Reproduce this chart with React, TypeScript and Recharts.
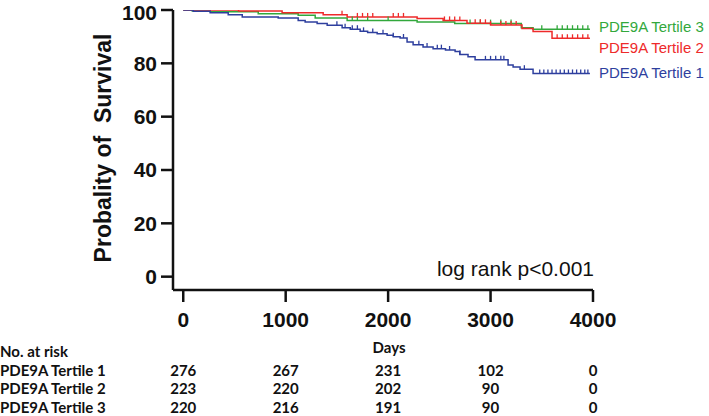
import React from 'react';
import { LineChart, Line, XAxis, YAxis } from 'recharts';

// Kaplan-Meier step points: day, survival %
const tertile1Steps = [
  { d: 0, s: 100 }, { d: 98, s: 99.5 }, { d: 263, s: 99.0 }, { d: 439, s: 98.2 },
  { d: 576, s: 97.4 }, { d: 927, s: 97.0 }, { d: 1122, s: 96.1 }, { d: 1190, s: 95.5 },
  { d: 1307, s: 94.9 }, { d: 1405, s: 94.3 }, { d: 1551, s: 93.3 }, { d: 1630, s: 92.8 },
  { d: 1727, s: 92.0 }, { d: 1800, s: 91.6 }, { d: 1893, s: 91.1 }, { d: 1990, s: 90.5 },
  { d: 2050, s: 90.0 }, { d: 2117, s: 89.5 }, { d: 2185, s: 88.0 }, { d: 2244, s: 87.0 },
  { d: 2341, s: 86.1 }, { d: 2439, s: 85.5 }, { d: 2560, s: 85.0 }, { d: 2654, s: 84.4 },
  { d: 2700, s: 83.3 }, { d: 2780, s: 82.5 }, { d: 2849, s: 81.3 }, { d: 3171, s: 79.4 },
  { d: 3220, s: 78.6 }, { d: 3288, s: 77.8 }, { d: 3415, s: 76.2 }, { d: 3970, s: 76.2 },
];
const tertile2Steps = [
  { d: 0, s: 100 }, { d: 540, s: 99.6 }, { d: 965, s: 99.0 }, { d: 1366, s: 98.2 },
  { d: 1600, s: 97.4 }, { d: 2283, s: 96.8 }, { d: 2537, s: 96.1 }, { d: 2770, s: 95.0 },
  { d: 3000, s: 94.4 }, { d: 3307, s: 93.1 }, { d: 3415, s: 91.9 }, { d: 3600, s: 89.4 },
  { d: 3970, s: 89.4 },
];
const tertile3Steps = [
  { d: 0, s: 100 }, { d: 88, s: 99.6 }, { d: 263, s: 99.3 }, { d: 732, s: 98.6 },
  { d: 1122, s: 98.0 }, { d: 1288, s: 97.0 }, { d: 1600, s: 96.1 }, { d: 2283, s: 95.5 },
  { d: 2650, s: 94.9 }, { d: 3300, s: 93.3 }, { d: 3415, s: 92.8 }, { d: 3970, s: 92.8 },
];

// censoring marks (days)
const tertile1Censor = [1500, 1580, 1650, 1700, 1760, 1850, 1950, 2050, 2150, 2300, 2380, 2480, 2520, 2600, 2700, 2950, 3000, 3050, 3100, 3130, 3330, 3480, 3520, 3560, 3600, 3640, 3680, 3720, 3760, 3800, 3840, 3880, 3920, 3950];
const tertile2Censor = [1550, 1700, 1750, 1800, 1850, 2050, 2100, 2150, 2550, 2600, 2650, 2700, 2850, 2900, 2950, 3000, 3100, 3150, 3200, 3250, 3650, 3700, 3750, 3800, 3850, 3900, 3950];
const tertile3Censor = [1650, 1700, 1800, 2000, 2800, 2900, 3000, 3100, 3200, 3500, 3650, 3700, 3750, 3800, 3850, 3900, 3950];

const xTicks = [0, 1000, 2000, 3000, 4000];
const yTicks = [0, 20, 40, 60, 80, 100];

const groups = ['PDE9A Tertile 1', 'PDE9A Tertile 2', 'PDE9A Tertile 3'];
const atRisk: Record<number, number[]> = {
  0: [276, 223, 220],
  1000: [267, 220, 216],
  2000: [231, 202, 191],
  3000: [102, 90, 90],
  4000: [0, 0, 0],
};

const BLUE = '#2e3f9e';
const RED = '#ee2a2a';
const GREEN = '#32a83c';
const ARIAL = '"Liberation Sans", Arial, sans-serif';
const CALIBRI = 'Lato, "Open Sans", sans-serif';

// table rows: baseline of "No. at risk" and row spacing
const TABLE_TOP = 357;
const ROW_GAP = 18.5;

type Pt = { d: number; s: number; c?: boolean };

// step value at a censor day = curve value at that time
const withCensor = (steps: Pt[], censor: number[]): Pt[] => {
  const marks = censor.map((day) => {
    let s = steps[0].s;
    for (const p of steps) if (p.d <= day) s = p.s;
    return { d: day, s, c: true };
  });
  return [...steps, ...marks].sort((a, b) => a.d - b.d);
};

const t1 = withCensor(tertile1Steps, tertile1Censor);
const t2 = withCensor(tertile2Steps, tertile2Censor);
const t3 = withCensor(tertile3Steps, tertile3Censor);

const censorDot = (color: string) => (props: any) => {
  const { cx, cy, payload, index } = props;
  if (!payload.c) return <g key={index} />;
  return <line key={index} x1={cx} x2={cx} y1={cy} y2={cy - 4} stroke={color} strokeWidth={1.3} />;
};

const XTick = (props: any) => {
  const { x, y, payload } = props;
  const rows = atRisk[payload.value] || [];
  return (
    <g>
      <text x={x} y={y} dy="0.71em" textAnchor="middle" fontSize={21} fontWeight="bold" fontFamily={ARIAL} fill="#111">
        {payload.value}
      </text>
      {rows.map((n, i) => (
        <text key={i} x={x} y={TABLE_TOP + (i + 1) * ROW_GAP} textAnchor="middle" fontSize={15} fontWeight="bold" fontFamily={CALIBRI} fill="#111">
          {n}
        </text>
      ))}
    </g>
  );
};

const App: React.FC = () => {
  return (
    <div style={{ position: 'absolute', left: 0, top: 0, width: 709, height: 416, background: '#fff' }}>
      <LineChart width={709} height={416} margin={{ top: 10, right: 116, left: 0, bottom: 0 }}>
        <XAxis
          type="number"
          dataKey="d"
          domain={[-100, 4000]}
          ticks={xTicks}
          allowDataOverflow
          height={126}
          axisLine={{ stroke: '#111', strokeWidth: 2.5 }}
          tickLine={{ stroke: '#111', strokeWidth: 2.5 }}
          tickSize={12}
          tickMargin={10}
          tick={<XTick />}
        />
        <YAxis
          type="number"
          dataKey="s"
          domain={[-5, 100]}
          ticks={yTicks}
          allowDataOverflow
          width={173}
          axisLine={{ stroke: '#111', strokeWidth: 2.5 }}
          tickLine={{ stroke: '#111', strokeWidth: 2.5 }}
          tickSize={12}
          tickMargin={4}
          tick={{ fill: '#111', fontSize: 21, fontWeight: 'bold', fontFamily: ARIAL }}
        />
        <Line data={t3} dataKey="s" type="stepAfter" stroke={GREEN} strokeWidth={1.5} dot={censorDot(GREEN)} isAnimationActive={false} />
        <Line data={t2} dataKey="s" type="stepAfter" stroke={RED} strokeWidth={1.5} dot={censorDot(RED)} isAnimationActive={false} />
        <Line data={t1} dataKey="s" type="stepAfter" stroke={BLUE} strokeWidth={1.5} dot={censorDot(BLUE)} isAnimationActive={false} />

        <text x={103} y={148} transform="rotate(-90 103 148)" textAnchor="middle" dominantBaseline="central" fontSize={23} fontWeight="bold" fontFamily={ARIAL} fill="#111" style={{ whiteSpace: 'pre' }}>
          {'Probality of  Survival'}
        </text>
        <text x={594} y={276} textAnchor="end" fontSize={21} fontFamily={ARIAL} fill="#111">log rank p&lt;0.001</text>

        <text x={599} y={32} fontSize={15} fontFamily={ARIAL} fill={GREEN}>PDE9A Tertile 3</text>
        <text x={599} y={53} fontSize={15} fontFamily={ARIAL} fill={RED}>PDE9A Tertile 2</text>
        <text x={599} y={78} fontSize={15} fontFamily={ARIAL} fill={BLUE}>PDE9A Tertile 1</text>

        <text x={389} y={353} textAnchor="middle" fontSize={15} fontWeight="bold" fontFamily={CALIBRI} fill="#111">Days</text>
        <text x={0} y={TABLE_TOP} fontSize={15} fontWeight="bold" fontFamily={CALIBRI} fill="#111">No. at risk</text>
        {groups.map((g, i) => (
          <text key={g} x={0} y={TABLE_TOP + (i + 1) * ROW_GAP} fontSize={15} fontWeight="bold" fontFamily={CALIBRI} fill="#111">{g}</text>
        ))}
      </LineChart>
    </div>
  );
};

export default App;
